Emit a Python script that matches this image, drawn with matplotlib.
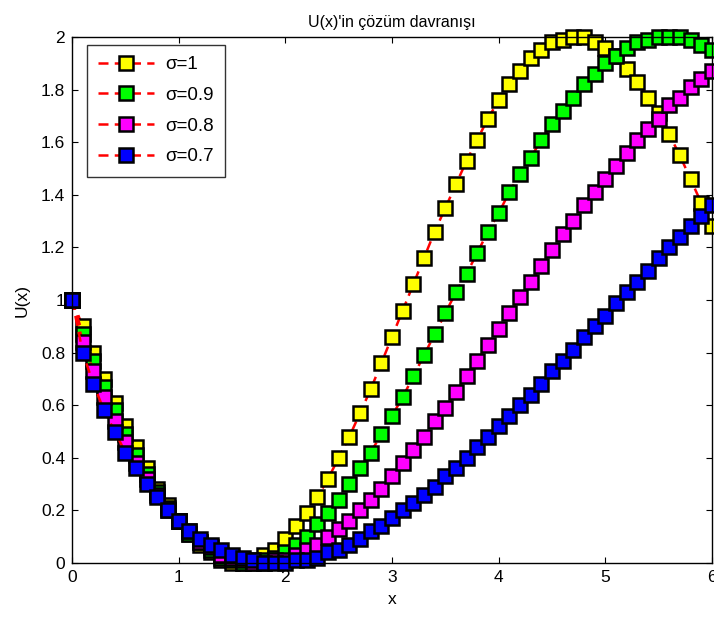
import matplotlib.pyplot as plt
import numpy as np

plt.rcParams['font.family'] = ['Liberation Sans', 'DejaVu Sans']

# x grid 0:0.1:6
x = np.round(np.arange(0, 61) * 0.1, 1)

u_s10 = [1.00, 0.90, 0.80, 0.70, 0.61, 0.52, 0.44, 0.36, 0.28, 0.22,
         0.16, 0.11, 0.07, 0.04, 0.01, 0.00, 0.00, 0.01, 0.03, 0.05,
         0.09, 0.14, 0.19, 0.25, 0.32, 0.40, 0.48, 0.57, 0.66, 0.76,
         0.86, 0.96, 1.06, 1.16, 1.26, 1.35, 1.44, 1.53, 1.61, 1.69,
         1.76, 1.82, 1.87, 1.92, 1.95, 1.98, 1.99, 2.00, 2.00, 1.98,
         1.96, 1.93, 1.88, 1.83, 1.77, 1.71, 1.63, 1.55, 1.46, 1.37,
         1.28]
u_s09 = [1.00, 0.87, 0.77, 0.67, 0.58, 0.49, 0.41, 0.34, 0.27, 0.21,
         0.16, 0.11, 0.08, 0.05, 0.02, 0.01, 0.00, 0.00, 0.01, 0.02,
         0.04, 0.07, 0.10, 0.15, 0.19, 0.24, 0.30, 0.36, 0.42, 0.49,
         0.56, 0.63, 0.71, 0.79, 0.87, 0.95, 1.03, 1.10, 1.18, 1.26,
         1.33, 1.41, 1.48, 1.54, 1.61, 1.67, 1.72, 1.77, 1.82, 1.86,
         1.90, 1.93, 1.96, 1.98, 1.99, 2.00, 2.00, 2.00, 1.99, 1.97,
         1.95]
u_s08 = [1.00, 0.84, 0.73, 0.63, 0.54, 0.46, 0.38, 0.32, 0.26, 0.20,
         0.16, 0.12, 0.08, 0.06, 0.03, 0.02, 0.01, 0.00, 0.00, 0.01,
         0.01, 0.03, 0.05, 0.07, 0.10, 0.13, 0.16, 0.20, 0.24, 0.28,
         0.33, 0.38, 0.43, 0.48, 0.54, 0.59, 0.65, 0.71, 0.77, 0.83,
         0.89, 0.95, 1.01, 1.07, 1.13, 1.19, 1.25, 1.30, 1.36, 1.41,
         1.46, 1.51, 1.56, 1.61, 1.65, 1.69, 1.74, 1.77, 1.81, 1.84,
         1.87]
u_s07 = [1.00, 0.80, 0.68, 0.58, 0.50, 0.42, 0.36, 0.30, 0.25, 0.20,
         0.16, 0.12, 0.09, 0.07, 0.05, 0.03, 0.02, 0.01, 0.00, 0.00,
         0.00, 0.01, 0.01, 0.02, 0.04, 0.05, 0.07, 0.09, 0.12, 0.14,
         0.17, 0.20, 0.23, 0.26, 0.29, 0.33, 0.36, 0.40, 0.44, 0.48,
         0.52, 0.56, 0.60, 0.64, 0.68, 0.73, 0.77, 0.81, 0.86, 0.90,
         0.94, 0.99, 1.03, 1.07, 1.11, 1.16, 1.20, 1.24, 1.28, 1.32,
         1.36]

labels = ['σ=1', 'σ=0.9', 'σ=0.8', 'σ=0.7']
face_colors = ['#ffff00', '#00ff00', '#ff00ff', '#0000ff']
series = [u_s10, u_s09, u_s08, u_s07]

fig = plt.figure(figsize=(7.14, 6.19), dpi=100)
ax = fig.add_axes([0.101, 0.0905, 0.896, 0.8495])

for u, fc, lab in zip(series, face_colors, labels):
    ax.plot(x, u, '--s', color='red', linewidth=1.8, markersize=10,
            markerfacecolor=fc, markeredgecolor='black', markeredgewidth=1.8,
            label=lab, clip_on=False, dashes=(4, 2.5))

ax.set_xlim(0, 6)
ax.set_ylim(0, 2)
ax.set_xticks(np.arange(0, 7, 1))
ax.set_yticks(np.arange(0, 2.01, 0.2))
ax.set_yticklabels(['0', '0.2', '0.4', '0.6', '0.8', '1', '1.2', '1.4', '1.6', '1.8', '2'])
ax.tick_params(direction='in', top=True, right=True, length=4, labelsize=12.5, pad=5)
for s in ax.spines.values():
    s.set_linewidth(1.0)

ax.set_xlabel('x', fontsize=12.5, labelpad=5)
ax.set_ylabel('U(x)', fontsize=12.5, labelpad=8)
ax.set_title("U(x)'in çözüm davranışı", fontsize=11.5, pad=7)

leg = ax.legend(loc='upper left', bbox_to_anchor=(0.023, 0.985), fontsize=13.5,
                frameon=True, fancybox=False, edgecolor='black',
                handlelength=3.0, borderpad=0.6, labelspacing=0.72,
                handletextpad=0.6, borderaxespad=0)
leg.get_frame().set_linewidth(1.0)

fig.savefig('out.png', dpi=100)
